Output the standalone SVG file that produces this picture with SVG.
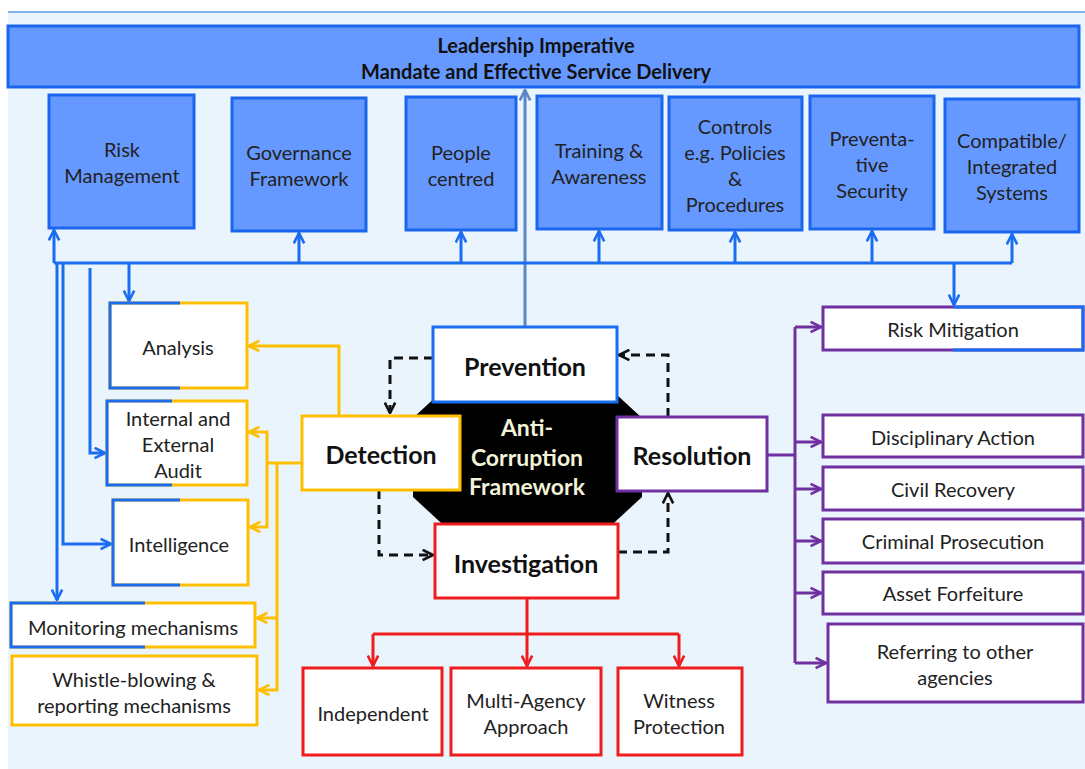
<svg xmlns="http://www.w3.org/2000/svg" width="1085" height="769" viewBox="0 0 1085 769">
<style>
text{font-family:Lato,"Liberation Sans",sans-serif;fill:#222;text-anchor:middle;dominant-baseline:central}
.t{font-size:20px}
.s{font-size:20px}
.b{font-size:25px;font-weight:bold;fill:#111}
.hd{font-size:20px;font-weight:bold;fill:#111}
.ac{font-size:23px;font-weight:bold;fill:#f2f2d8}
.top{fill:#6699ff;stroke:#1a66ee;stroke-width:3}
.wb{fill:#fff;stroke-width:3}
.y{stroke:#ffbf00}
.bl{stroke:#1a6cf0}
.p{stroke:#7030a0}
.r{stroke:#ee1c1c}
.c{fill:none;stroke-width:3}
.d{fill:none;stroke:#111;stroke-width:3;stroke-dasharray:9 6}
</style>
<defs>
<marker id="ab" viewBox="0 0 10 10" refX="9" refY="5" markerWidth="13" markerHeight="13" markerUnits="userSpaceOnUse" orient="auto"><path d="M1,1 L9,5 L1,9" fill="none" stroke="#1a6cf0" stroke-width="2"/></marker>
<marker id="ay" viewBox="0 0 10 10" refX="9" refY="5" markerWidth="13" markerHeight="13" markerUnits="userSpaceOnUse" orient="auto"><path d="M1,1 L9,5 L1,9" fill="none" stroke="#ffbf00" stroke-width="2"/></marker>
<marker id="ap" viewBox="0 0 10 10" refX="9" refY="5" markerWidth="13" markerHeight="13" markerUnits="userSpaceOnUse" orient="auto"><path d="M1,1 L9,5 L1,9" fill="none" stroke="#7030a0" stroke-width="2"/></marker>
<marker id="ar" viewBox="0 0 10 10" refX="9" refY="5" markerWidth="13" markerHeight="13" markerUnits="userSpaceOnUse" orient="auto"><path d="M1,1 L9,5 L1,9" fill="none" stroke="#ee1c1c" stroke-width="2"/></marker>
<marker id="ak" viewBox="0 0 10 10" refX="9" refY="5" markerWidth="13" markerHeight="13" markerUnits="userSpaceOnUse" orient="auto"><path d="M1,1 L9,5 L1,9" fill="none" stroke="#111" stroke-width="2"/></marker>
<marker id="as" viewBox="0 0 10 10" refX="9" refY="5" markerWidth="13" markerHeight="13" markerUnits="userSpaceOnUse" orient="auto"><path d="M1,1 L9,5 L1,9" fill="none" stroke="#5b87c5" stroke-width="2"/></marker>
</defs>
<rect x="0" y="0" width="1085" height="769" fill="#fff"/>
<rect x="8" y="12" width="1077" height="757" fill="#eaf4fd"/>
<line x1="8" y1="12" x2="1085" y2="12" stroke="#7fb0f0" stroke-width="2"/>

<g id="connectors">
<path class="c" stroke="#5b87c5" d="M525,327 V90" marker-end="url(#as)"/>
<g class="bl">
<path class="c" d="M54,263 H1012"/>
<path class="c" d="M54,263 V230" marker-end="url(#ab)"/>
<path class="c" d="M299,263 V233" marker-end="url(#ab)"/>
<path class="c" d="M461,263 V232" marker-end="url(#ab)"/>
<path class="c" d="M599,263 V231" marker-end="url(#ab)"/>
<path class="c" d="M735,263 V232" marker-end="url(#ab)"/>
<path class="c" d="M872,263 V231" marker-end="url(#ab)"/>
<path class="c" d="M1012,263 V234" marker-end="url(#ab)"/>
<path class="c" d="M954,263 V305" marker-end="url(#ab)"/>
<path class="c" d="M57,263 V600" marker-end="url(#ab)"/>
<path class="c" d="M63,263 V544 H111" marker-end="url(#ab)"/>
<path class="c" d="M90,268 V453 H105" marker-end="url(#ab)"/>
<path class="c" d="M129,263 V301" marker-end="url(#ab)"/>
</g>
<g class="y">
<path class="c" d="M339,416 V346 H249" marker-end="url(#ay)"/>
<path class="c" d="M302,463 H267"/>
<path class="c" d="M267,463 V432 H249" marker-end="url(#ay)"/>
<path class="c" d="M267,463 V527 H250" marker-end="url(#ay)"/>
<path class="c" d="M277,463 V690 H259" marker-end="url(#ay)"/>
<path class="c" d="M277,618 H257" marker-end="url(#ay)"/>
</g>
<g class="p">
<path class="c" d="M767,455 H795"/>
<path class="c" d="M795,327 V663"/>
<path class="c" d="M795,327 H821" marker-end="url(#ap)"/>
<path class="c" d="M795,442 H821" marker-end="url(#ap)"/>
<path class="c" d="M795,489 H821" marker-end="url(#ap)"/>
<path class="c" d="M795,541 H821" marker-end="url(#ap)"/>
<path class="c" d="M795,593 H821" marker-end="url(#ap)"/>
<path class="c" d="M795,663 H826" marker-end="url(#ap)"/>
</g>
<g class="r">
<path class="c" d="M527,598 V666" marker-end="url(#ar)"/>
<path class="c" d="M373,634 H679"/>
<path class="c" d="M373,634 V666" marker-end="url(#ar)"/>
<path class="c" d="M679,634 V666" marker-end="url(#ar)"/>
</g>
</g>

<g id="core">
<polygon points="452,382 603,382 642,418 642,497 603,533 452,533 413,497 413,418" fill="#000"/>
<text class="ac" x="527" y="427">Anti-</text>
<text class="ac" x="527" y="457">Corruption</text>
<text class="ac" x="527" y="486">Framework</text>
</g>

<g id="dashed">
<path class="d" d="M433,358 H390 V413" marker-end="url(#ak)"/>
<path class="d" d="M379,490 V555 H433" marker-end="url(#ak)"/>
<path class="d" d="M618,552 H668 V493" marker-end="url(#ak)"/>
<path class="d" d="M668,417 V355 H619" marker-end="url(#ak)"/>
</g>

<g id="banner"><rect class="top" x="8" y="26" width="1071" height="61"/>
<text class="hd" x="536" y="45">Leadership Imperative</text>
<text class="hd" x="536" y="71">Mandate and Effective Service Delivery</text></g>

<g id="risk-management"><rect class="top" x="49" y="95" width="145" height="133"/><text class="t" x="122" y="149">Risk</text><text class="t" x="122" y="175">Management</text></g>
<g id="governance"><rect class="top" x="232" y="98" width="134" height="133"/><text class="t" x="299" y="152">Governance</text><text class="t" x="299" y="178">Framework</text></g>
<g id="people"><rect class="top" x="406" y="97" width="110" height="133"/><text class="t" x="461" y="152">People</text><text class="t" x="461" y="178">centred</text></g>
<g id="training"><rect class="top" x="537" y="96" width="125" height="133"/><text class="t" x="599" y="150">Training &amp;</text><text class="t" x="599" y="176">Awareness</text></g>
<g id="controls"><rect class="top" x="669" y="97" width="133" height="133"/><text class="t" x="735" y="126">Controls</text><text class="t" x="735" y="152">e.g. Policies</text><text class="t" x="735" y="178">&amp;</text><text class="t" x="735" y="204">Procedures</text></g>
<g id="preventative"><rect class="top" x="810" y="96" width="124" height="133"/><text class="t" x="872" y="138">Preventa-</text><text class="t" x="872" y="164">tive</text><text class="t" x="872" y="190">Security</text></g>
<g id="compatible"><rect class="top" x="945" y="99" width="134" height="133"/><text class="t" x="1012" y="140">Compatible/</text><text class="t" x="1012" y="166">Integrated</text><text class="t" x="1012" y="192">Systems</text></g>

<g id="analysis"><rect class="wb y" x="110" y="303" width="137" height="85"/><path class="c bl" d="M180,303 H110 V388 H180"/><text class="s" x="178" y="347">Analysis</text></g>
<g id="audit"><rect class="wb y" x="107" y="401" width="140" height="84"/><path class="c bl" d="M172,401 H107 V485 H172"/><text class="s" x="178" y="418">Internal and</text><text class="s" x="178" y="444">External</text><text class="s" x="178" y="470">Audit</text></g>
<g id="intelligence"><rect class="wb y" x="113" y="500" width="135" height="85"/><path class="c bl" d="M180,500 H113 V585 H180"/><text class="s" x="179" y="544">Intelligence</text></g>
<g id="monitoring"><rect class="wb y" x="11" y="603" width="244" height="44"/><path class="c bl" d="M145,603 H11 V647 H145"/><text class="s" x="133" y="627">Monitoring mechanisms</text></g>
<g id="whistle"><rect class="wb y" x="12" y="656" width="245" height="69"/><text class="s" x="134" y="679">Whistle-blowing &amp;</text><text class="s" x="134" y="705">reporting mechanisms</text></g>

<g id="prevention"><rect class="wb bl" x="433" y="327" width="184" height="75"/><text class="b" x="525" y="366">Prevention</text></g>
<g id="detection"><rect class="wb y" x="302" y="416" width="158" height="74"/><text class="b" x="381" y="454">Detection</text></g>
<g id="resolution"><rect class="wb p" x="617" y="417" width="150" height="74"/><text class="b" x="692" y="455">Resolution</text></g>
<g id="investigation"><rect class="wb r" x="435" y="524" width="183" height="74"/><text class="b" x="526" y="563">Investigation</text></g>

<g id="risk-mitigation"><rect class="wb p" x="823" y="307" width="260" height="43"/><path class="c bl" d="M953,307 H1083 V350 H953"/><text class="s" x="953" y="329">Risk Mitigation</text></g>
<g id="disciplinary"><rect class="wb p" x="823" y="415" width="260" height="42"/><text class="s" x="953" y="437">Disciplinary Action</text></g>
<g id="civil"><rect class="wb p" x="823" y="467" width="260" height="43"/><text class="s" x="953" y="489">Civil Recovery</text></g>
<g id="criminal"><rect class="wb p" x="823" y="519" width="260" height="44"/><text class="s" x="953" y="541">Criminal Prosecution</text></g>
<g id="asset"><rect class="wb p" x="823" y="572" width="260" height="42"/><text class="s" x="953" y="593">Asset Forfeiture</text></g>
<g id="referring"><rect class="wb p" x="828" y="624" width="255" height="78"/><text class="s" x="955" y="651">Referring to other</text><text class="s" x="955" y="677">agencies</text></g>

<g id="independent"><rect class="wb r" x="303" y="668" width="139" height="87"/><text class="s" x="373" y="713">Independent</text></g>
<g id="multi-agency"><rect class="wb r" x="451" y="668" width="150" height="87"/><text class="s" x="526" y="700">Multi-Agency</text><text class="s" x="526" y="726">Approach</text></g>
<g id="witness"><rect class="wb r" x="618" y="668" width="124" height="87"/><text class="s" x="679" y="700">Witness</text><text class="s" x="679" y="726">Protection</text></g>
</svg>
